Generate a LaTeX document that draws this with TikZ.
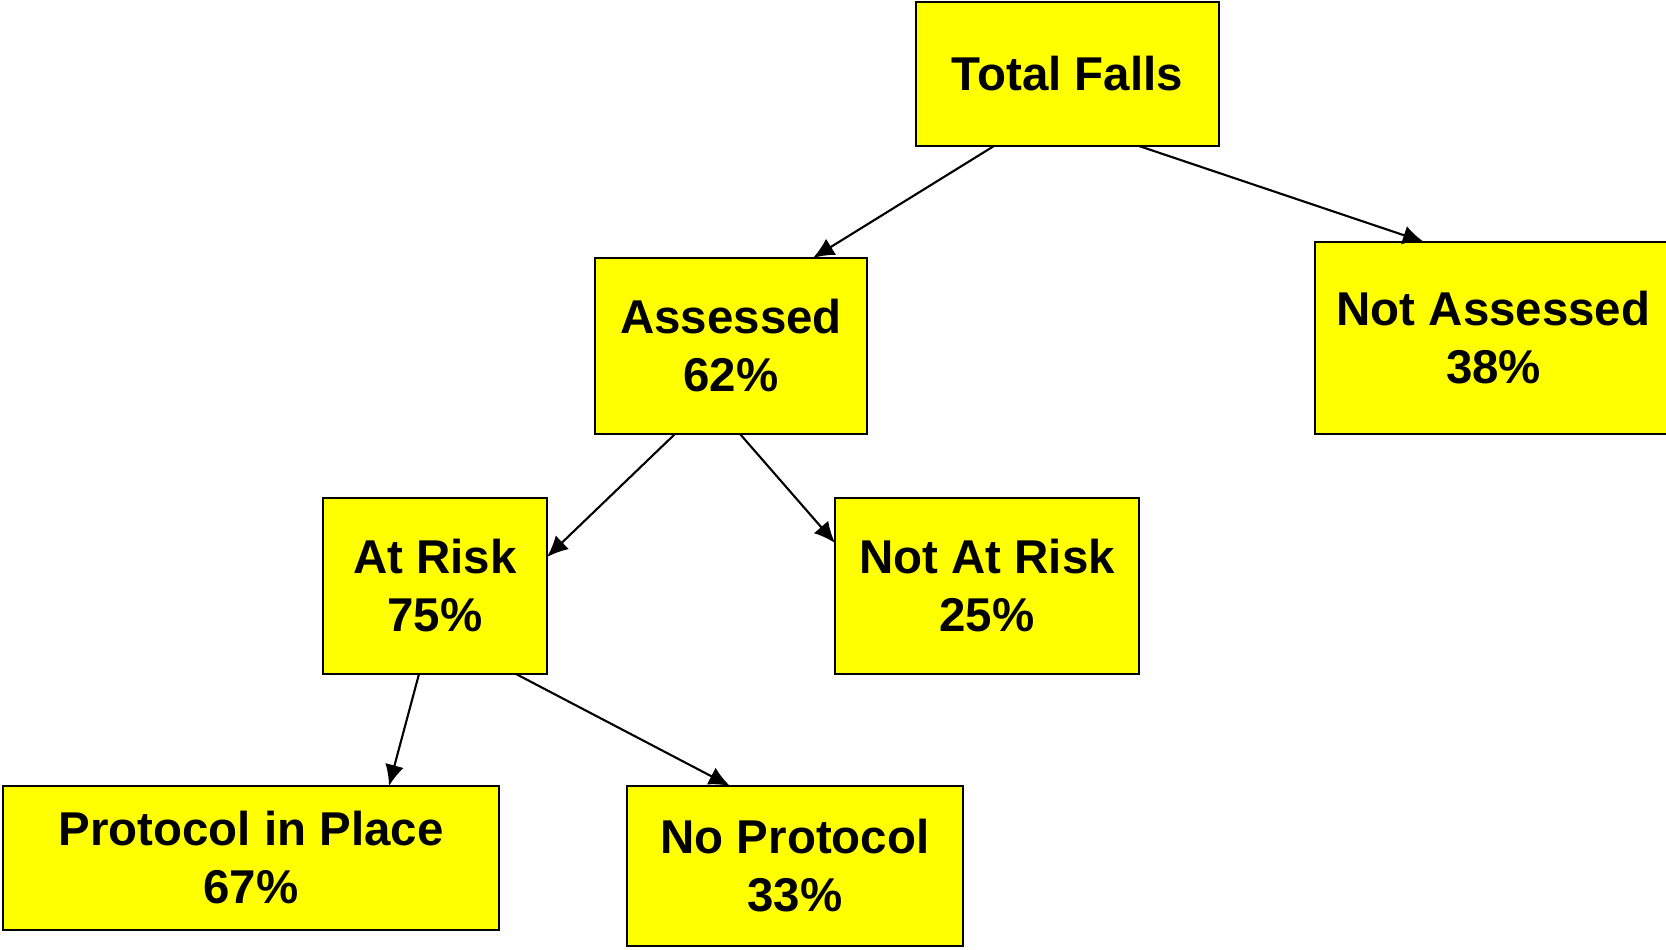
\documentclass[tikz,border=0pt]{standalone}
\usepackage{fontspec}
\setmainfont{Liberation Sans}
\usetikzlibrary{arrows.meta,positioning}
\definecolor{boxyellow}{RGB}{255,255,0}

\begin{document}
\begin{tikzpicture}
        [
            line/.style = {
                draw,
                line width=0.6pt,
                -{Latex[length=6pt,width=5.4pt]}
            },
            block/.style = {
                rectangle,
                draw,
                line width=0.8pt,
                fill=boxyellow,
                align=center,
                inner sep=0pt,
                outer sep=0pt,
                font=\fontsize{13.5}{16.5}\selectfont\bfseries
            }
        ]
        \useasboundingbox (0,0) rectangle (16.66,9.5);

        \node[block,minimum width=3.03cm,minimum height=1.44cm] (total) at (10.675,8.76) {Total Falls};
        \node[block,minimum width=2.72cm,minimum height=1.76cm,below=1.12cm of total,xshift=-3.365cm] (assessed) {Assessed\\62\%};
        \node[block,minimum width=3.57cm,minimum height=1.92cm,below=0.96cm of total,xshift=4.26cm] (notassessed) {Not Assessed\\38\%};
        \node[block,minimum width=2.24cm,minimum height=1.76cm,below=0.64cm of assessed,xshift=-2.96cm] (atrisk) {At Risk\\75\%};
        \node[block,minimum width=3.04cm,minimum height=1.76cm,below=0.64cm of assessed,xshift=2.56cm] (notatrisk) {Not At Risk\\25\%};
        \node[block,minimum width=4.96cm,minimum height=1.44cm,below=1.12cm of atrisk,xshift=-1.84cm] (protocol) {Protocol in Place\\67\%};
        \node[block,minimum width=3.36cm,minimum height=1.60cm,below=1.12cm of atrisk,xshift=3.6cm] (noprotocol) {No Protocol\\33\%};

        \path[line] ([xshift=-0.735cm]total.south) -- ([xshift=0.82cm]assessed.north);
        \path[line] ([xshift=0.715cm]total.south) -- ([xshift=-0.695cm]notassessed.north);
        \path[line] ([xshift=-0.56cm]assessed.south) -- ([yshift=0.29cm]atrisk.east);
        \path[line] ([xshift=0.09cm]assessed.south) -- ([yshift=0.43cm]notatrisk.west);
        \path[line] ([xshift=-0.16cm]atrisk.south) -- ([xshift=1.38cm]protocol.north);
        \path[line] ([xshift=0.81cm]atrisk.south) -- ([xshift=-0.65cm]noprotocol.north);
    \end{tikzpicture}
\end{document}
